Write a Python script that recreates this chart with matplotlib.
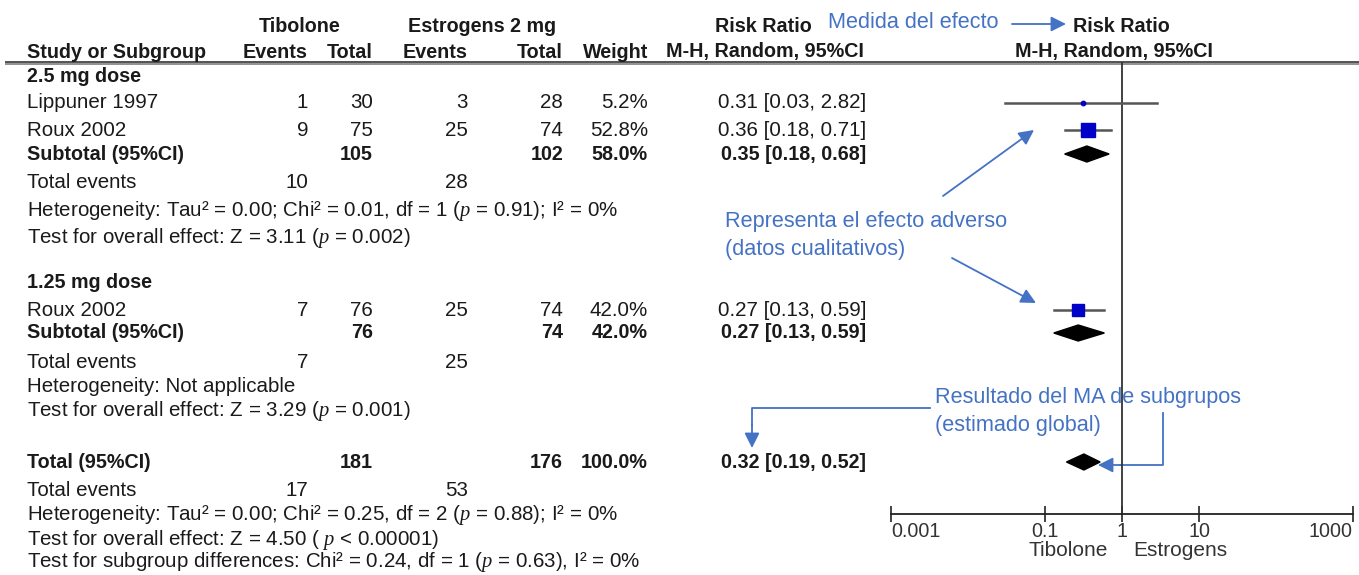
import matplotlib
matplotlib.use("Agg")
import matplotlib.pyplot as plt
import numpy as np
from matplotlib import font_manager as fm

# ---------------- data ----------------
studies = ["Lippuner 1997", "Roux 2002", "Roux 2002"]
study_group = [0, 0, 1]
tib_events = [1, 9, 7]
tib_total = [30, 75, 76]
est_events = [3, 25, 25]
est_total = [28, 74, 74]
weights = [5.2, 52.8, 42.0]
rr = [0.31, 0.36, 0.27]
rr_lo = [0.03, 0.18, 0.13]
rr_hi = [2.82, 0.71, 0.59]

groups = ["2.5 mg dose", "1.25 mg dose"]
sub_tib_total = [105, 76]
sub_est_total = [102, 74]
sub_weight = [58.0, 42.0]
sub_rr = [0.35, 0.27]
sub_lo = [0.18, 0.13]
sub_hi = [0.68, 0.59]
sub_tib_events = [10, 7]
sub_est_events = [28, 25]
sub_het = ["Heterogeneity: Tau\u00b2 = 0.00; Chi\u00b2 = 0.01, df = 1 ($p$ = 0.91); I\u00b2 = 0%",
           "Heterogeneity: Not applicable"]
sub_test = ["Test for overall effect: Z = 3.11 ($p$ = 0.002)",
            "Test for overall effect: Z = 3.29 ($p$ = 0.001)"]

tot_tib_total, tot_est_total, tot_weight = 181, 176, 100.0
tot_rr, tot_lo, tot_hi = 0.32, 0.19, 0.52
tot_tib_events, tot_est_events = 17, 53
tot_het = "Heterogeneity: Tau\u00b2 = 0.00; Chi\u00b2 = 0.25, df = 2 ($p$ = 0.88); I\u00b2 = 0%"
tot_test = "Test for overall effect: Z = 4.50 ( $p$ < 0.00001)"
tot_subdiff = "Test for subgroup differences: Chi\u00b2 = 0.24, df = 1 ($p$ = 0.63), I\u00b2 = 0%"

xticks = [0.001, 0.1, 1, 10, 1000]
xtick_labels = ["0.001", "0.1", "1", "10", "1000"]

# ---------------- style ----------------
names = {f.name for f in fm.fontManager.ttflist}
fam = "Liberation Sans Narrow" if "Liberation Sans Narrow" in names else "Liberation Sans"
plt.rcParams["font.family"] = [fam, "DejaVu Sans"]
plt.rcParams["mathtext.fontset"] = "custom"
plt.rcParams["mathtext.it"] = "Liberation Serif:italic"
plt.rcParams["mathtext.rm"] = fam
FS = 14.8
BFS = 14.2
TXT = "#1a1a1a"
ANN = "#4472C4"
SQ = "#0000C8"
LN = "#555555"

W, H = 1359, 575
fig = plt.figure(figsize=(W / 100, H / 100), dpi=100)
ax = fig.add_axes([0, 0, 1, 1])
ax.set_xlim(0, W)
ax.set_ylim(H, 0)
ax.axis("off")

# forest axes (pixel rows on y)
fx0, fx1 = 891, 1353
fy_top, fy_bot = 62, 514
fax = fig.add_axes([fx0 / W, 1 - fy_bot / H, (fx1 - fx0) / W, (fy_bot - fy_top) / H])
fax.set_xscale("log")
fax.set_xlim(0.001, 1000)
fax.set_ylim(fy_bot, fy_top)
fax.patch.set_alpha(0)
for s in ["top", "left", "right"]:
    fax.spines[s].set_visible(False)
fax.spines["bottom"].set_color("#222222")
fax.spines["bottom"].set_linewidth(1.3)
fax.set_yticks([])
fax.set_xticks(xticks)
fax.set_xticklabels(xtick_labels, fontsize=14.2, color="#333333")
fax.xaxis.set_minor_locator(matplotlib.ticker.NullLocator())
fax.tick_params(axis="x", direction="inout", length=12, width=1.2, color="#222222", pad=0)
labs = fax.get_xticklabels()
labs[0].set_ha("left")
labs[-1].set_ha("right")
fax.axvline(1, color="#333333", lw=1.3)

def t(x, y, s, ha="left", bold=False, color=TXT, fs=None):
    if fs is None:
        fs = BFS if bold else FS
    ax.text(x, y, s, ha=ha, va="center", fontsize=fs, color=color,
            fontweight="bold" if bold else "normal")

# column right edges
c_te, c_tt, c_ee, c_et, c_w, c_rr = 308, 373, 468, 563, 648, 866
x0 = 27

# header
t(300, 27, "Tibolone", ha="center", bold=True)
t(482, 27, "Estrogens 2 mg", ha="center", bold=True)
t(763, 27, "Risk Ratio", ha="center", bold=True)
t(1121, 27, "Risk Ratio", ha="center", bold=True)
t(x0, 52, "Study or Subgroup", bold=True)
for cx, s in [(c_te, "Events"), (c_tt, "Total"), (c_ee, "Events"), (c_et, "Total"), (c_w, "Weight")]:
    t(cx, 52, s, ha="right", bold=True)
t(765, 52, "M-H, Random, 95%CI", ha="center", bold=True)
t(1114, 52, "M-H, Random, 95%CI", ha="center", bold=True)
ax.plot([5, W], [61.5, 61.5], color="#444444", lw=1.3, solid_capstyle="butt")
ax.plot([5, W], [64, 64], color="#888888", lw=1.3, solid_capstyle="butt")

# layout rows
group_rows = [
    dict(head=77, studies=[103, 130], sub=154, ev=183, het=211, test=238),
    dict(head=282, studies=[310], sub=333, ev=362, het=387, test=411),
]

def diamond(y, lo, mid, hi, h=8):
    xs = [lo, mid, hi, mid, lo]
    ys = [y, y - h, y, y + h, y]
    fax.fill(xs, ys, color="black", clip_on=False, zorder=4)

for g, rows in enumerate(group_rows):
    t(x0, rows["head"], groups[g], bold=True)
    idx = [i for i, sg in enumerate(study_group) if sg == g]
    for i, y in zip(idx, rows["studies"]):
        t(x0, y, studies[i])
        t(c_te, y, str(tib_events[i]), ha="right")
        t(c_tt, y, str(tib_total[i]), ha="right")
        t(c_ee, y, str(est_events[i]), ha="right")
        t(c_et, y, str(est_total[i]), ha="right")
        t(c_w, y, f"{weights[i]:.1f}%", ha="right")
        t(c_rr, y, f"{rr[i]:.2f} [{rr_lo[i]:.2f}, {rr_hi[i]:.2f}]", ha="right")
        fax.plot([rr_lo[i], rr_hi[i]], [y, y], color=LN, lw=1.8, clip_on=False, zorder=3)
        side = 1.93 * np.sqrt(weights[i]) * 0.72
        fax.plot([rr[i]], [y], marker="s" if weights[i] > 10 else "o", ms=side, color=SQ,
                 mec=SQ, clip_on=False, zorder=5, ls="none")
    y = rows["sub"]
    t(x0, y, "Subtotal (95%CI)", bold=True)
    t(c_tt, y, str(sub_tib_total[g]), ha="right", bold=True)
    t(c_et, y, str(sub_est_total[g]), ha="right", bold=True)
    t(c_w, y, f"{sub_weight[g]:.1f}%", ha="right", bold=True)
    t(c_rr, y, f"{sub_rr[g]:.2f} [{sub_lo[g]:.2f}, {sub_hi[g]:.2f}]", ha="right", bold=True)
    diamond(y, sub_lo[g], sub_rr[g], sub_hi[g])
    y = rows["ev"]
    t(x0, y, "Total events")
    t(c_te, y, str(sub_tib_events[g]), ha="right")
    t(c_ee, y, str(sub_est_events[g]), ha="right")
    t(x0, rows["het"], sub_het[g])
    t(x0, rows["test"], sub_test[g])

# overall
y = 462
t(x0, y, "Total (95%CI)", bold=True)
t(c_tt, y, str(tot_tib_total), ha="right", bold=True)
t(c_et, y, str(tot_est_total), ha="right", bold=True)
t(c_w, y, f"{tot_weight:.1f}%", ha="right", bold=True)
t(c_rr, y, f"{tot_rr:.2f} [{tot_lo:.2f}, {tot_hi:.2f}]", ha="right", bold=True)
diamond(y, tot_lo, tot_rr, tot_hi)
t(x0, 490, "Total events")
t(c_te, 490, str(tot_tib_events), ha="right")
t(c_ee, 490, str(tot_est_events), ha="right")
t(x0, 515, tot_het)
t(x0, 540, tot_test)
t(x0, 562, tot_subdiff)

t(1068, 550, "Tibolone", ha="center", color="#333333", fs=15)
t(1180, 550, "Estrogens", ha="center", color="#333333", fs=15)

# annotations
AFS = 15.6
t(828, 22, "Medida del efecto", color=ANN, fs=AFS)
aprops = dict(arrowstyle="-|>,head_length=0.9,head_width=0.45", color=ANN, lw=1.3,
              shrinkA=0, shrinkB=0)
ax.annotate("", xy=(1066, 24), xytext=(1012, 24), arrowprops=aprops)
t(725, 222, "Representa el efecto adverso", color=ANN, fs=AFS)
t(725, 250, "(datos cualitativos)", color=ANN, fs=AFS)
ax.annotate("", xy=(1034, 130), xytext=(943, 196), arrowprops=aprops)
ax.annotate("", xy=(1036, 303), xytext=(952, 258), arrowprops=aprops)
t(935, 397, "Resultado del MA de subgrupos", color=ANN, fs=AFS)
t(935, 425, "(estimado global)", color=ANN, fs=AFS)
ax.plot([930, 752, 752], [408, 408, 425], color=ANN, lw=1.3)
ax.annotate("", xy=(752, 448), xytext=(752, 424), arrowprops=aprops)
ax.plot([1163, 1163, 1120], [413, 465, 465], color=ANN, lw=1.3)
ax.annotate("", xy=(1098, 465), xytext=(1122, 465), arrowprops=aprops)

fig.savefig("out.png", dpi=100)
